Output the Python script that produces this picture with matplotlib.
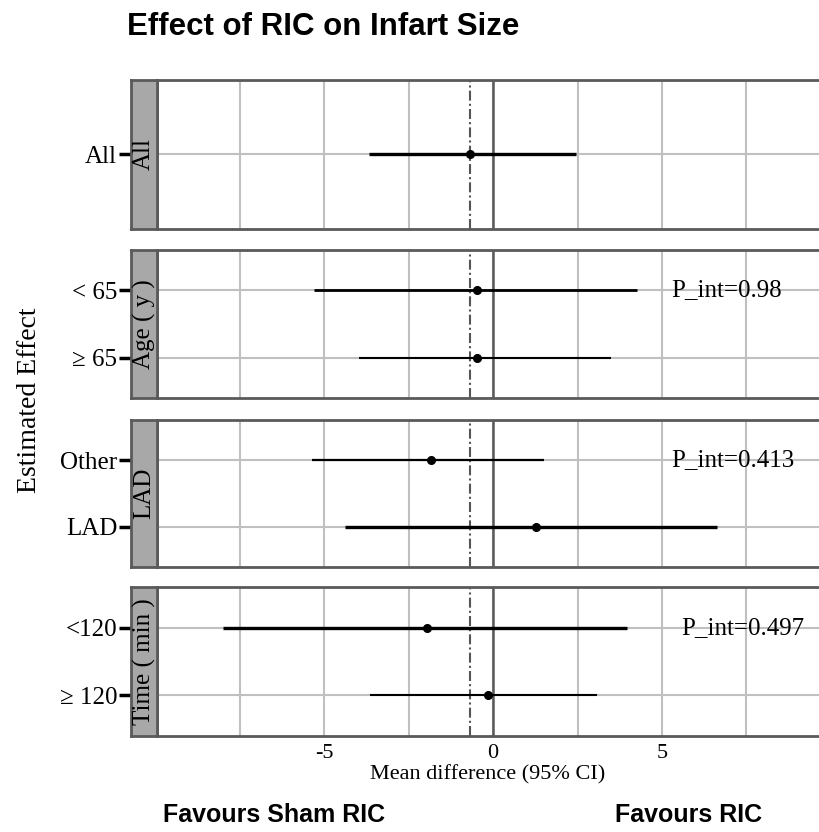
import matplotlib
matplotlib.use("Agg")
import matplotlib.pyplot as plt

plt.rcParams["axes.unicode_minus"] = False

# facets, top to bottom
facets = ["All", "Age ( y )", "LAD", "Time ( min )"]
facet_rows = [["All"], ["< 65", "\u2265 65"], ["Other", "LAD"], ["<120", "\u2265 120"]]

# mean difference and 95% CI, same order as facet_rows
est = [[-0.68], [-0.47, -0.47], [-1.83, 1.27], [-1.95, -0.15]]
lo = [[-3.67], [-5.30, -3.96], [-5.36, -4.38], [-8.00, -3.64]]
hi = [[2.46], [4.26, 3.49], [1.51, 6.63], [3.96, 3.08]]
p_int = [None, "P_int=0.98", "P_int=0.413", "P_int=0.497"]
p_int_x = [None, 6.9, 7.1, 7.4]

overall = -0.68

# line widths of the CI bars (pt)
row_lw = [[2.4], [2.0, 1.5], [1.6, 2.4], [2.4, 1.5]]

SERIF = ["Liberation Serif", "DejaVu Serif"]
SANS = ["Liberation Sans", "DejaVu Sans"]
BORDER = "#5a5a5a"
GRID = "#c0c0c0"
STRIP = "#a8a8a8"

W, H = 819, 832
fig = plt.figure(figsize=(W / 100, H / 100), dpi=100)

# panel extents in pixels (top, bottom)
panels_px = [(80, 229), (250, 398), (420, 567), (587, 736)]
x_left, strip_left = 157, 131

axes = []
for i, (top, bot) in enumerate(panels_px):
    b = 1 - bot / H
    h = (bot - top) / H
    ax = fig.add_axes([x_left / W, b, 1 - x_left / W, h])
    sx = fig.add_axes([strip_left / W, b, (x_left - strip_left) / W, h], sharey=ax)
    n = len(facet_rows[i])
    ypos = list(range(n, 0, -1))

    ax.set_xlim(-9.95, 9.65)
    ax.set_ylim(0.4, n + 0.6)
    ax.set_xticks([-5, 0, 5])
    ax.set_xticks([-7.5, -2.5, 2.5, 7.5], minor=True)
    ax.set_yticks(ypos)
    ax.grid(True, which="both", color=GRID, lw=1.5, zorder=0)
    ax.tick_params(axis="y", length=0, labelleft=False)
    ax.tick_params(axis="x", which="both", length=0, pad=6)
    if i < len(panels_px) - 1:
        ax.tick_params(axis="x", labelbottom=False)
    for s in ["top", "bottom", "left"]:
        ax.spines[s].set_color(BORDER)
        ax.spines[s].set_linewidth(2)
    ax.spines["right"].set_visible(False)

    ax.axvline(0, color=BORDER, lw=1.8, zorder=2)
    ax.axvline(overall, color="#555555", lw=1.5, ls=(0, (4.8, 1.5, 1, 1.5)), zorder=2)

    for k in range(n):
        ax.hlines(ypos[k], lo[i][k], hi[i][k], color="black", lw=row_lw[i][k], zorder=3)
        ax.plot(est[i][k], ypos[k], "o", color="black", ms=5.5, zorder=4)

    if p_int[i]:
        ax.text(p_int_x[i], ypos[0], p_int[i], ha="center", va="center",
                fontsize=18, family=SERIF, zorder=5)

    # strip on the left
    sx.set_facecolor(STRIP)
    sx.set_xticks([])
    for s in sx.spines.values():
        s.set_color(BORDER)
        s.set_linewidth(2)
    sx.set_yticks(ypos)
    sx.set_yticklabels(facet_rows[i], family=SERIF, fontsize=18)
    sx.tick_params(axis="y", length=9, width=2.5, color="black", pad=1)
    sx.text(0.5, 0.5, facets[i], transform=sx.transAxes, rotation=90,
            ha="center", va="center", fontsize=18, family=SERIF)
    axes.append(ax)

for lab in axes[-1].get_xticklabels():
    lab.set_family(SERIF)
    lab.set_fontsize(16)
axes[-1].set_xlabel("Mean difference (95% CI)", family=SERIF, fontsize=16, labelpad=1)

fig.text(30 / W, 1 - 400 / H, "Estimated Effect", rotation=90, ha="center", va="center",
         family=SERIF, fontsize=20)

fig.text(127 / W, 1 - 27 / H, "Effect of RIC on Infart Size", ha="left", va="center",
         family=SANS, fontsize=22.5, fontweight="bold")
fig.text(163 / W, 1 - 815 / H, "Favours Sham RIC", ha="left", va="center",
         family=SANS, fontsize=18, fontweight="bold")
fig.text(615 / W, 1 - 815 / H, "Favours RIC", ha="left", va="center",
         family=SANS, fontsize=18, fontweight="bold")

fig.savefig("out.png", dpi=100)
